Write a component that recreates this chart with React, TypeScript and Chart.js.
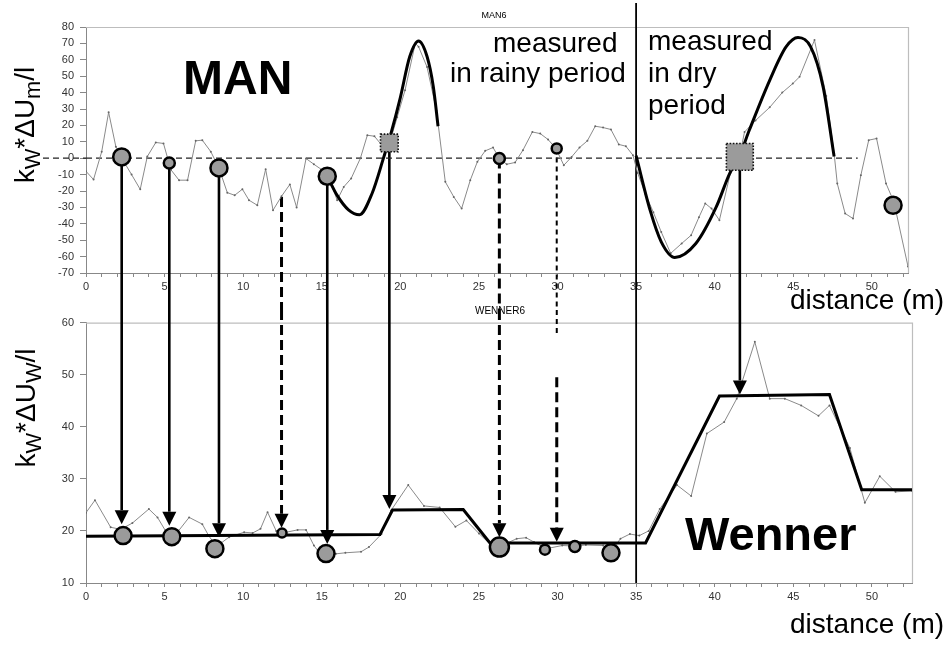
import React, { useEffect, useRef } from 'react';
import { Chart, registerables } from 'chart.js';
Chart.register(...registerables);

const FONT = '"Liberation Sans", Arial, Helvetica, sans-serif';

// ---------- top chart (MAN6) ----------
const manX = [0, 0.48, 1.0, 1.44, 1.9, 2.4, 2.9, 3.45, 3.9, 4.44, 4.93, 5.4, 5.92, 6.46, 6.98, 7.4, 7.94, 8.46, 8.99, 9.46, 9.95, 10.37, 10.9, 11.43, 11.9, 12.44, 12.97, 13.4, 14.0, 14.5, 15.0, 15.5, 15.98, 16.4, 16.87, 17.46, 17.9, 18.35, 18.9, 19.4, 19.8, 20.3, 20.95, 21.16, 21.7, 22.3, 22.86, 23.4, 23.9, 24.45, 24.9, 25.4, 25.9, 26.3, 26.77, 27.3, 27.8, 28.4, 28.9, 29.4, 29.9, 30.4, 30.9, 31.4, 31.9, 32.4, 32.9, 33.4, 33.9, 34.35, 34.8, 35.1, 35.6, 36.1, 36.6, 37.2, 37.9, 38.5, 39.0, 39.4, 39.8, 40.3, 41.0, 41.6, 41.9, 42.6, 43.5, 44.3, 44.97, 45.4, 46.35, 47.1, 47.6, 47.8, 48.3, 48.8, 49.3, 49.8, 50.3, 50.9, 51.4, 52.3];
const manY = [-8, -13, 4, 28, 7, -2, -10, -19, 1, 9.6, 9, -7, -13.4, -13.4, 10.6, 11, 4, -6, -21, -22.6, -18.9, -25.6, -28.7, -6.7, -31.7, -23.2, -16, -30, -0.2, -3.7, -7, -13, -25.6, -17.5, -12.4, 0, 14, 13.4, 7, 12, 25, 41.5, 70, 68, 55.6, 29, -14.4, -23.6, -30.7, -13.4, -2.2, 4.5, 6.5, -0.2, -3.7, -2.6, 4.9, 16, 15, 11.4, 5.9, -4.3, 0.8, 6.5, 10.6, 19.5, 18.7, 17.5, 8.4, 7.3, 1.8, -9, -22, -33, -45, -58, -52, -47, -36, -27.6, -30.7, -37.8, -9, 2, 16, 23, 31, 40, 45.5, 49.6, 72, 38, 2.8, -15.4, -33.7, -36.8, -10.4, 11, 12, -15.4, -26.6, -66];

const fit1X = [15.35, 16.0, 16.7, 17.4, 18.2, 18.95, 19.4, 20.0, 20.6, 21.16, 21.7, 22.1, 22.4];
const fit1Y = [-11, -23, -31.5, -34.5, -21.5, 0.8, 15, 37, 62, 71.5, 62, 43.5, 19.5];
const fit2X = [35.0, 35.9, 36.6, 37.46, 38.8, 40.1, 40.95, 41.6, 42.2, 43.5, 44.55, 45.3, 46.1, 46.9, 47.6];
const fit2Y = [1.5, -32, -51, -60.5, -52, -29.7, -9.4, 2, 17, 47.5, 68, 73.6, 68, 43.5, 1];

const zeroLineX = [0, 49.1];
const zeroLineY = [0, 0];
const zeroLineLeftOverhang = 43; // px the dashed zero line runs left of the axis

const manMarkX = [2.27, 5.3, 8.46, 15.35, 26.3, 29.95, 51.35];
const manMarkY = [0.8, -2.9, -5.9, -11, -0.2, 5.9, -28.7];
const manMarkR = [8.5, 5.5, 8.5, 8.5, 5.5, 5, 8.5];

const squareX = [19.3, 41.6];
const squareY = [9.3, 0.8];
const squareR = [12.5, 19];

// ---------- bottom chart (WENNER6) ----------
const wenX = [0, 0.57, 1.57, 2.2, 2.95, 4.0, 4.55, 5.1, 5.7, 6.56, 7.4, 7.8, 8.3, 9.1, 10.06, 10.6, 11.1, 11.55, 12.1, 12.5, 13.46, 14.0, 14.5, 14.9, 15.9, 16.5, 17.5, 18.0, 18.8, 19.4, 20.5, 21.5, 22.5, 23.5, 24.2, 25.0, 25.7, 26.3, 27.4, 28.0, 28.5, 29.3, 30.3, 31.1, 31.8, 32.9, 33.4, 34.0, 34.6, 35.2, 35.8, 36.5, 37.6, 38.5, 39.5, 40.6, 41.4, 42.55, 43.5, 44.46, 45.5, 46.6, 47.3, 48.6, 49.55, 50.5, 51.5, 52.55];
const wenY = [23.5, 25.9, 20.7, 20.3, 21.5, 24.2, 22.6, 19.8, 19.3, 22.6, 21.3, 19.1, 17, 18.8, 19.75, 19.6, 20.4, 23.6, 20, 19.6, 20.2, 20.2, 17.2, 15.6, 15.6, 15.8, 16, 16.9, 19.4, 23.9, 28.8, 24.8, 24.5, 20.8, 22, 19.5, 17.5, 17, 18.5, 18.7, 17.85, 16.6, 17.2, 17.1, 17.3, 17.2, 16, 18.5, 19.4, 19.1, 20, 24.2, 28.8, 26.7, 38.7, 40.9, 45.4, 56.3, 45.4, 45.4, 44.1, 42.1, 44.1, 35.9, 25.4, 30.5, 27.5, 27.7];

const wenFitX = [0, 18.7, 19.5, 24.0, 25.7, 35.6, 40.3, 47.3, 49.35, 52.55];
const wenFitY = [19, 19.3, 24, 24.1, 17.7, 17.7, 45.9, 46.2, 27.9, 27.9];

const wenMarkX = [2.36, 5.46, 8.2, 12.47, 15.27, 26.3, 29.2, 31.1, 33.4];
const wenMarkY = [19.1, 18.9, 16.6, 19.6, 15.65, 16.9, 16.4, 17.0, 15.8];
const wenMarkR = [8.5, 8.5, 8.5, 4.5, 8.5, 9.5, 5, 5.5, 8.5];

// ---------- arrows ----------
const arrowX = [2.27, 5.3, 8.46, 12.44, 15.35, 19.3, 26.3, 29.95, 41.6];
const arrowFrom = [0.8, -2.9, -5.9, -23.6, -11, 9.3, -0.2, 5.9, 0.8];
const arrowTip = [21.3, 21.0, 18.8, 20.6, 17.5, 24.2, 18.8, 17.9, 46.2];
const arrowStyle = ['solid', 'solid', 'solid', 'dashed', 'solid', 'solid', 'dashed', 'thin', 'solid'];
const arrowGapFrom = [null, null, null, null, null, null, null, 57.7, null];
const arrowGapTo = [null, null, null, null, null, null, null, 49.5, null];
const dividerX = 35;

// ---------- axis ranges / ticks ----------
const topYMin = -70, topYMax = 80, topXMax = 52.3;
const botYMin = 10, botYMax = 60, botXMax = 52.55;
const xMajorStep = 5;

const pts = (xs: number[], ys: number[]) => xs.map((x, i) => ({ x, y: ys[i] }));

function setStyle(ctx: CanvasRenderingContext2D, s: string) {
  if (s === 'solid') { ctx.lineWidth = 2.6; ctx.setLineDash([]); }
  else if (s === 'dashed') { ctx.lineWidth = 3; ctx.setLineDash([10, 5]); }
  else { ctx.lineWidth = 2; ctx.setLineDash([5, 4]); }
}
function seg(ctx: CanvasRenderingContext2D, x: number, y0: number, y1: number) {
  ctx.beginPath(); ctx.moveTo(x, y0); ctx.lineTo(x, y1); ctx.stroke();
}

const framePlugin = {
  id: 'frame',
  beforeDatasetsDraw(chart: any) {
    const { ctx, chartArea: a } = chart;
    ctx.save();
    ctx.strokeStyle = '#bdbdbd'; ctx.lineWidth = 1.2;
    ctx.beginPath();
    ctx.moveTo(a.left, a.top + 0.5); ctx.lineTo(a.right + 0.5, a.top + 0.5); ctx.lineTo(a.right + 0.5, a.bottom);
    ctx.stroke();
    ctx.restore();
  },
};

const topArrowPlugin = {
  id: 'topArrows',
  beforeDatasetsDraw(chart: any) {
    const { ctx } = chart;
    const xs = chart.scales.x, ys = chart.scales.y;
    ctx.save();
    ctx.strokeStyle = '#000';
    ctx.lineWidth = 1.8; ctx.setLineDash([]);
    seg(ctx, xs.getPixelForValue(dividerX), chart.chartArea.top - 24, chart.height);
    arrowX.forEach((x, i) => {
      setStyle(ctx, arrowStyle[i]);
      seg(ctx, xs.getPixelForValue(x), ys.getPixelForValue(arrowFrom[i]), chart.height);
    });
    // dashed zero line continues left through the tick labels
    const y0 = ys.getPixelForValue(zeroLineY[0]);
    const xl = xs.getPixelForValue(zeroLineX[0]);
    ctx.strokeStyle = '#222'; ctx.lineWidth = 1.3; ctx.setLineDash([6, 4]);
    ctx.beginPath(); ctx.moveTo(xl - zeroLineLeftOverhang, y0); ctx.lineTo(xl, y0); ctx.stroke();
    ctx.restore();
  },
  afterDatasetsDraw(chart: any) {
    // dotted outline of the grey squares
    const { ctx } = chart;
    const meta = chart.getDatasetMeta(1);
    ctx.save();
    ctx.strokeStyle = '#111'; ctx.lineWidth = 1.6; ctx.setLineDash([1.6, 1.6]);
    meta.data.forEach((el: any) => {
      const h = (el.options.radius * Math.SQRT1_2);
      ctx.strokeRect(el.x - h, el.y - h, 2 * h, 2 * h);
    });
    ctx.restore();
  },
};

const botArrowPlugin = {
  id: 'botArrows',
  afterDatasetsDraw(chart: any) {
    const { ctx } = chart;
    const xs = chart.scales.x, ys = chart.scales.y;
    ctx.save();
    ctx.strokeStyle = '#000'; ctx.fillStyle = '#000';
    ctx.lineWidth = 1.8; ctx.setLineDash([]);
    seg(ctx, xs.getPixelForValue(dividerX), 0, chart.chartArea.bottom);
    const head = 14, half = 7;
    arrowX.forEach((x, i) => {
      const px = xs.getPixelForValue(x);
      const tip = ys.getPixelForValue(arrowTip[i]);
      if (arrowGapFrom[i] != null) {
        setStyle(ctx, 'thin');
        seg(ctx, px, 0, ys.getPixelForValue(arrowGapFrom[i] as number));
        setStyle(ctx, 'dashed');
        seg(ctx, px, ys.getPixelForValue(arrowGapTo[i] as number), tip - head);
      } else {
        setStyle(ctx, arrowStyle[i]);
        seg(ctx, px, 0, tip - head);
      }
      ctx.setLineDash([]);
      ctx.beginPath();
      ctx.moveTo(px, tip); ctx.lineTo(px - half, tip - head); ctx.lineTo(px + half, tip - head); ctx.closePath();
      ctx.fill();
    });
    ctx.restore();
  },
};

const tickFont = { family: 'Liberation Sans', size: 11 };

function xScale(max: number, height: number) {
  return {
    type: 'linear', min: 0, max,
    afterFit: (s: any) => { s.height = height; },
    ticks: {
      stepSize: 1, autoSkip: false, maxRotation: 0, minRotation: 0, includeBounds: false,
      callback: (v: any) => (Math.abs(v % xMajorStep) < 1e-6 ? String(v) : ''),
      font: tickFont, color: '#333', padding: 3,
    },
    grid: { drawOnChartArea: false, drawTicks: true, tickLength: 4, color: '#888' },
    border: { color: '#888', width: 1 },
  };
}
function yScale(min: number, max: number) {
  return {
    type: 'linear', min, max,
    afterFit: (s: any) => { s.width = 86; },
    ticks: { stepSize: 10, autoSkip: false, font: tickFont, color: '#333', padding: 6 },
    grid: { drawOnChartArea: false, drawTicks: true, tickLength: 6, color: '#888' },
    border: { color: '#888', width: 1 },
  };
}

const baseOptions = (padTop: number, padRight: number) => ({
  animation: false, responsive: false, devicePixelRatio: 1,
  layout: { padding: { left: 0, top: padTop, right: padRight, bottom: 0 }, autoPadding: false },
  plugins: { legend: { display: false }, tooltip: { enabled: false }, title: { display: false } },
});

const Txt = ({ x, base, size, bold, center, children }: any) => (
  <div style={{
    position: 'absolute', left: x, top: base - 0.8465 * size, fontSize: size, lineHeight: `${size}px`,
    fontWeight: bold ? 'bold' : 'normal', whiteSpace: 'nowrap', fontFamily: FONT, color: '#000',
    transform: center ? 'translateX(-50%)' : undefined,
  }}>{children}</div>
);

const YTitle = ({ cx, cy, sub }: any) => (
  <div style={{
    position: 'absolute', left: cx, top: cy, transform: 'translate(-50%,-50%) rotate(-90deg)',
    fontFamily: FONT, fontSize: 28, lineHeight: '34px', whiteSpace: 'nowrap', color: '#000',
  }}>
    k<span style={{ fontSize: '0.78em', verticalAlign: '-0.28em' }}>W</span>*ΔU
    <span style={{ fontSize: '0.78em', verticalAlign: '-0.28em' }}>{sub}</span>/l
  </div>
);

export default function App() {
  const topRef = useRef<HTMLCanvasElement>(null);
  const botRef = useRef<HTMLCanvasElement>(null);

  useEffect(() => {
    const top = new Chart(topRef.current as HTMLCanvasElement, {
      type: 'line',
      data: {
        datasets: [
          { label: 'markers', type: 'scatter', data: pts(manMarkX, manMarkY), pointRadius: manMarkR, pointBackgroundColor: '#9b9b9b', pointBorderColor: '#000', pointBorderWidth: 2.5, showLine: false, order: 0 } as any,
          { label: 'squares', type: 'scatter', data: pts(squareX, squareY), pointStyle: 'rect', pointRadius: squareR, pointBackgroundColor: '#9b9b9b', pointBorderWidth: 0, showLine: false, order: 1 } as any,
          { label: 'fit1', data: pts(fit1X, fit1Y), borderColor: '#000', borderWidth: 3, pointRadius: 0, cubicInterpolationMode: 'monotone', fill: false, order: 2 },
          { label: 'fit2', data: pts(fit2X, fit2Y), borderColor: '#000', borderWidth: 3, pointRadius: 0, cubicInterpolationMode: 'monotone', fill: false, order: 2 },
          { label: 'MAN6', data: pts(manX, manY), borderColor: '#8a8a8a', borderWidth: 1, pointRadius: 1, pointBackgroundColor: '#666', pointBorderWidth: 0, tension: 0, fill: false, order: 4 },
          { label: 'zero', data: pts(zeroLineX, zeroLineY), borderColor: '#222', borderWidth: 1.3, borderDash: [6, 4], pointRadius: 0, fill: false, order: 5 },
        ],
      },
      options: {
        ...baseOptions(27, 40),
        scales: { x: xScale(topXMax, 37), y: yScale(topYMin, topYMax) },
      } as any,
      plugins: [framePlugin, topArrowPlugin],
    });

    const bot = new Chart(botRef.current as HTMLCanvasElement, {
      type: 'line',
      data: {
        datasets: [
          { label: 'markers', type: 'scatter', data: pts(wenMarkX, wenMarkY), pointRadius: wenMarkR, pointBackgroundColor: '#9b9b9b', pointBorderColor: '#000', pointBorderWidth: 2.5, showLine: false, order: 0 } as any,
          { label: 'fit', data: pts(wenFitX, wenFitY), borderColor: '#000', borderWidth: 3, pointRadius: 0, tension: 0, fill: false, order: 2 },
          { label: 'WENNER6', data: pts(wenX, wenY), borderColor: '#8a8a8a', borderWidth: 1, pointRadius: 1, pointBackgroundColor: '#666', pointBorderWidth: 0, tension: 0, fill: false, order: 4 },
        ],
      },
      options: {
        ...baseOptions(10, 36),
        scales: { x: xScale(botXMax, 62), y: yScale(botYMin, botYMax) },
      } as any,
      plugins: [framePlugin, botArrowPlugin],
    });

    return () => { top.destroy(); bot.destroy(); };
  }, []);

  return (
    <div style={{ position: 'absolute', left: 0, top: 0, width: 948, height: 645, background: '#fff', overflow: 'hidden' }}>
      <canvas ref={topRef} width={948} height={310} style={{ position: 'absolute', left: 0, top: 0, width: 948, height: 310 }} />
      <canvas ref={botRef} width={948} height={335} style={{ position: 'absolute', left: 0, top: 310, width: 948, height: 335 }} />

      <YTitle cx={29} cy={125} sub="m" />
      <YTitle cx={30} cy={408} sub="W" />

      <Txt x={494} base={19} size={9} center>MAN6</Txt>
      <Txt x={500} base={314} size={10} center>WENNER6</Txt>

      <Txt x={183} base={95} size={48} bold>MAN</Txt>
      <Txt x={685} base={550} size={47} bold>Wenner</Txt>

      <Txt x={493} base={53} size={28}>measured</Txt>
      <Txt x={450} base={83} size={28}>in rainy period</Txt>
      <Txt x={648} base={51} size={28}>measured</Txt>
      <Txt x={648} base={83} size={28}>in dry</Txt>
      <Txt x={648} base={115} size={28}>period</Txt>

      <Txt x={790} base={310} size={28}>distance (m)</Txt>
      <Txt x={790} base={634} size={28}>distance (m)</Txt>
    </div>
  );
}
